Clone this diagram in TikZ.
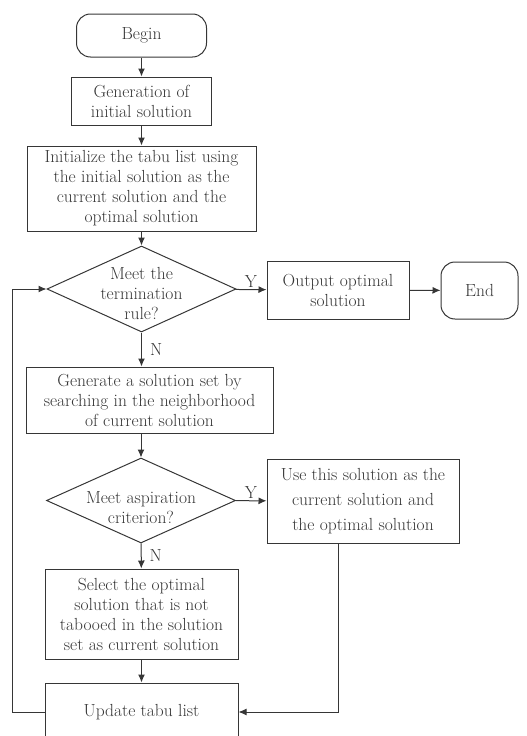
\documentclass[tikz,border=0pt]{standalone}
\usetikzlibrary{shapes.geometric,arrows.meta}
\definecolor{ink}{HTML}{363636}
\begin{document}
\begin{tikzpicture}[x=1pt,y=-1pt,
  line width=1pt,color=ink,font=\fontsize{17.5}{20}\selectfont,
  >={Latex[length=8pt,width=7pt]},
  main node/.style={rectangle,draw,align=center,inner sep=0pt},
  end node/.style={main node,rounded corners=14pt},
  test node/.style={diamond,draw,inner sep=0pt,minimum width=189pt,minimum height=86pt}]

  \useasboundingbox (0,0) rectangle (527,736);

  \node[end node,minimum width=130pt,minimum height=43pt] (1) at (141.5,35.5) {Begin};
  \node[main node,minimum width=140pt,minimum height=48pt] (2) at (141.5,101) {Generation of\\initial solution};
  \node[main node,minimum width=229pt,minimum height=85pt] (3) at (141.5,188.5) {Initialize the tabu list using\\the initial solution as the\\current solution and the\\optimal solution};
  \node[test node] (4) at (141.5,289) {};
  \node[align=center] (4t) at (141.5,293) {Meet the\\termination\\rule?};
  \node[main node,minimum width=142pt,minimum height=58pt] (5) at (338,290) {Output optimal\\solution};
  \node[end node,minimum width=77pt,minimum height=57pt] (6) at (479.5,290.5) {End};
  \node[main node,minimum width=247pt,minimum height=66pt] (7) at (149.5,400) {Generate a solution set by\\searching in the neighborhood\\of current solution};
  \node[test node,minimum height=85pt] (8) at (141,500.5) {};
  \node[align=center] (8t) at (141,508) {Meet aspiration\\criterion?};
  \node[main node,minimum width=192pt,minimum height=84pt,font=\fontsize{17.5}{25}\selectfont] (9) at (363,501) {Use this solution as the\\current solution and\\the optimal solution};
  \node[main node,minimum width=193pt,minimum height=90pt] (10) at (141.5,614) {Select the optimal\\solution that is not\\tabooed in the solution\\set as current solution};
  \node[main node,minimum width=193pt,minimum height=58pt] (11) at (141.5,712) {Update tabu list};

  \path[->,every node/.style={inner sep=2pt}]
   (1) edge (2)
   (2) edge (3)
   (3) edge (4)
   (4) edge node[above]{Y} (5)
   (5) edge (6)
   (4) edge node[right=6pt]{N} (4 |- 7.north)
   (8 |- 7.south) edge (8)
   (8) edge node[above]{Y} (9)
   (8) edge node[right=6pt]{N} (10)
   (10) edge (11);

  \draw[->] ([xshift=-25pt]9.south) |- (11.east);
  \draw[->] (11.west) -- ++(-32,0) |- (4.west);
\end{tikzpicture}
\end{document}
